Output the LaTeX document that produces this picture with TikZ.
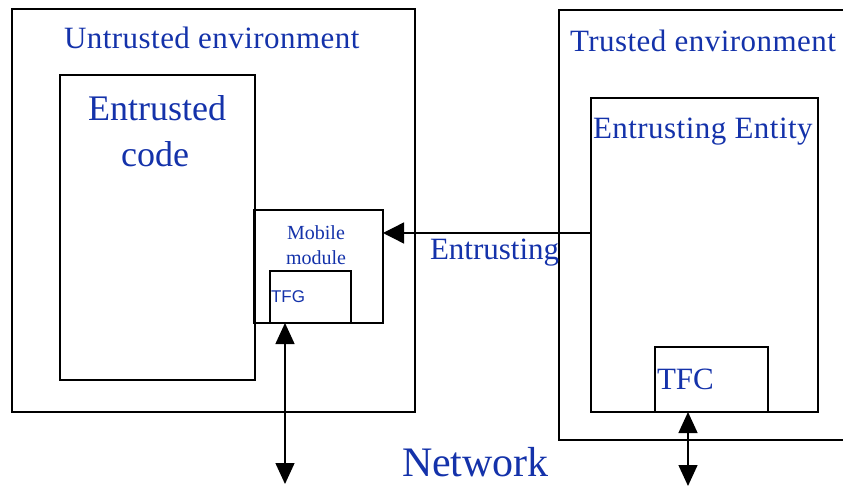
\documentclass[tikz,border=0pt]{standalone}
\usepackage{fontspec}
\setmainfont{Liberation Serif}
\newfontfamily\tfgfont{Liberation Sans}
\newfontfamily\spfont[LetterSpace=1.5]{Liberation Serif}
\usetikzlibrary{arrows.meta}
\definecolor{txtblue}{RGB}{20,50,170}
\tikzset{
  box/.style={draw, line width=1.4pt, rectangle, inner sep=0pt, outer sep=0pt},
  lbl/.style={text=txtblue, inner sep=0pt, outer sep=0pt},
  arr/.style={line width=1.4pt, -{Triangle[length=21pt,width=21pt]}},
  dbl/.style={line width=1.4pt, {Triangle[length=21pt,width=19pt]}-{Triangle[length=21pt,width=19pt]}},
}
\newcommand{\fsz}[1]{\fontsize{#1}{#1}\selectfont}
\begin{document}
\begin{tikzpicture}[x=1pt,y=-1pt]
\useasboundingbox (0,0) rectangle (843,486);
\begin{scope}
\clip (0,0) rectangle (843,486);
% boxes
\node[box, minimum width=403, minimum height=403] (untrusted) at (213.5,210.5) {};
\node[box, minimum width=195, minimum height=305] (code) at (157.5,227.5) {};
\node[box, minimum width=129, minimum height=113] (mobile) at (318.5,266.5) {};
\node[box, minimum width=81, minimum height=52] (tfg) at (310.5,297) {};
\node[box, minimum width=320, minimum height=430] (trusted) at (719,225) {};
\node[box, minimum width=227, minimum height=314] (entity) at (704.5,255) {};
\node[box, minimum width=113, minimum height=65] (tfc) at (711.5,379.5) {};
% labels
\node[lbl, anchor=base west] (lu) at (64,49) {\spfont\fsz{31}Untrusted environment};
\node[lbl, anchor=base west] (lt) at (570,52) {\spfont\fsz{31}Trusted environment};
\node[lbl, anchor=base] (lc1) at (157,121) {\fsz{36}Entrusted};
\node[lbl, anchor=base] (lc2) at (155,167) {\fsz{36}code};
\node[lbl, anchor=base] (lm1) at (316,240) {\fsz{20}Mobile};
\node[lbl, anchor=base] (lm2) at (316,265) {\fsz{20}module};
\node[lbl, anchor=base west] (lg) at (271,302) {\tfgfont\fsz{17}TFG};
\node[lbl, anchor=base west] (le) at (430,260) {\fsz{31}Entrusting};
\node[lbl, anchor=base west] (lee) at (593,139) {\spfont\fsz{31}Entrusting Entity};
\node[lbl, anchor=base west] (lf) at (657,389) {\fsz{31}TFC};
\node[lbl, anchor=base west] (ln) at (402,476) {\fsz{42}Network};
% connectors
\coordinate (es) at (591,233);
\draw[arr] (es) -- (es -| mobile.east);
\coordinate (n1) at (285,484);
\draw[dbl] (n1) -- (n1 |- mobile.south);
\coordinate (n2) at (688,486);
\draw[dbl] (n2) -- (n2 |- tfc.south);
\end{scope}
\end{tikzpicture}
\end{document}
